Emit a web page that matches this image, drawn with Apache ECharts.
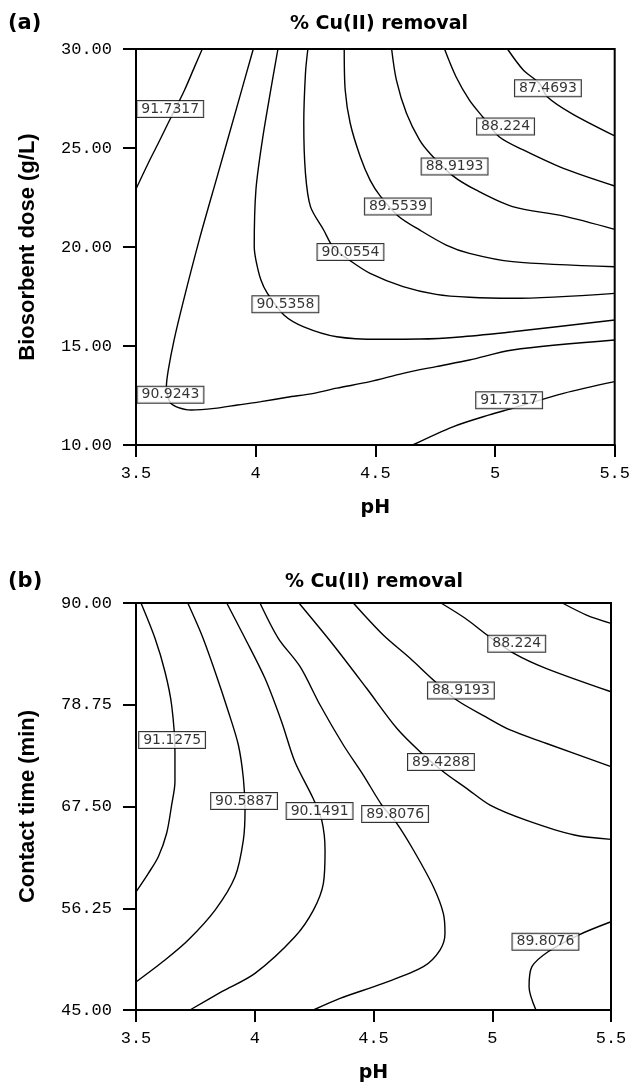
<!DOCTYPE html>
<html>
<head>
<meta charset="utf-8">
<script src="https://cdn.jsdelivr.net/npm/echarts@6/dist/echarts.min.js"></script>
<style>
  html, body { margin: 0; padding: 0; background: #fff; }
  #chart { width: 633px; height: 1088px; }
</style>
</head>
<body>
<div id="chart"></div>
<script>
// axis ticks
const phTicks = [3.5, 4, 4.5, 5, 5.5];
const doseTicks = [10, 15, 20, 25, 30];
const timeTicks = [45, 56.25, 67.5, 78.75, 90];

// (a) contour lines, [pH, dose]
const a917317Upper = [[3.777,30],[3.745,29.11],[3.703,27.93],[3.669,27.09],[3.634,26.25],[3.593,25.24],[3.551,24.23],[3.5,22.93]];
const a909243 = [[3.990,30],[3.922,27.09],[3.843,23.72],[3.764,20.35],[3.699,17.32],[3.659,15.30],[3.635,13.79],[3.627,12.94],[3.641,12.19],[3.669,11.93],[3.731,11.77],[3.828,11.85],[3.924,12.02],[4.022,12.19],[4.132,12.41],[4.243,12.61],[4.339,12.87],[4.478,13.20],[4.616,13.62],[4.754,13.96],[4.893,14.29],[5.073,14.80],[5.5,15.30]];
const a905358 = [[4.093,30],[4.063,27.93],[4.028,25.40],[4.001,22.88],[3.994,20.02],[4.001,19.34],[4.022,18.33],[4.049,17.66],[4.118,16.57],[4.201,15.97],[4.339,15.47],[4.520,15.34],[4.685,15.35],[4.865,15.47],[5.073,15.72],[5.5,16.31]];
const a900554 = [[4.218,30],[4.208,28.77],[4.201,26.25],[4.208,23.72],[4.229,22.04],[4.284,20.86],[4.326,19.95],[4.395,19.31],[4.478,18.67],[4.616,18.0],[4.754,17.61],[4.893,17.46],[5.073,17.41],[5.5,17.66]];
const a895539 = [[4.370,30],[4.374,27.93],[4.395,26.25],[4.437,24.56],[4.478,23.38],[4.520,22.58],[4.595,21.57],[4.685,20.86],[4.796,20.10],[4.893,19.68],[5.073,19.26],[5.5,19.0]];
const a889193 = [[4.568,30],[4.588,28.43],[4.630,26.75],[4.685,25.40],[4.734,24.65],[4.824,23.59],[4.920,22.88],[5.073,22.04],[5.284,21.57],[5.5,20.89]];
const a88224 = [[4.789,30],[4.837,28.60],[4.893,27.42],[4.948,26.58],[5.017,25.57],[5.118,24.90],[5.286,23.97],[5.5,23.08]];
const a874693 = [[5.052,30],[5.118,28.94],[5.185,28.27],[5.218,27.59],[5.319,26.75],[5.5,25.61]];
const a917317Lower = [[4.656,10],[4.824,10.92],[4.976,11.52],[5.073,11.85],[5.286,12.61],[5.5,13.20]];
const labelsA = [[3.643,26.97,'91.7317'],[5.221,28.02,'87.4693'],[5.044,26.08,'88.224'],[4.831,24.06,'88.9193'],[4.594,22.04,'89.5539'],[4.396,19.75,'90.0554'],[4.124,17.11,'90.5358'],[3.644,12.54,'90.9243'],[5.059,12.26,'91.7317']];

// (b) contour lines, [pH, time]
const b911275 = [[3.521,90],[3.580,86.10],[3.622,82.40],[3.650,78.72],[3.664,73.56],[3.664,70.24],[3.650,67.66],[3.629,64.54],[3.594,61.95],[3.552,60.11],[3.5,58.05]];
const b905887 = [[3.718,90],[3.777,86.46],[3.833,82.40],[3.889,77.98],[3.931,74.30],[3.952,70.62],[3.959,67.11],[3.952,63.79],[3.917,59.74],[3.833,56.05],[3.720,52.74],[3.622,50.53],[3.5,48.1]];
const b901491 = [[3.882,90],[3.959,86.10],[4.043,81.67],[4.113,76.88],[4.169,72.45],[4.245,68.44],[4.282,66.0],[4.296,62.69],[4.289,59.01],[4.247,56.05],[4.169,53.10],[4.001,49.05],[3.861,47.02],[3.727,45]];
const b898076 = [[4.022,90],[4.099,86.10],[4.191,82.96],[4.275,78.72],[4.373,74.30],[4.457,70.98],[4.535,67.66],[4.598,65.64],[4.668,62.69],[4.752,58.63],[4.794,55.69],[4.801,53.48],[4.780,51.63],[4.710,49.79],[4.541,47.95],[4.359,46.29],[4.247,45]];
const b894288 = [[4.186,90],[4.331,85.36],[4.471,80.57],[4.598,76.15],[4.696,73.56],[4.794,71.35],[4.892,69.51],[4.991,67.66],[5.142,66.0],[5.346,64.35],[5.5,63.87]];
const b889193 = [[4.415,90],[4.541,86.46],[4.654,83.89],[4.752,81.49],[4.850,79.27],[4.971,77.43],[5.075,75.96],[5.226,74.49],[5.5,71.90]];
const b88224 = [[4.784,90],[4.886,88.31],[4.988,86.27],[5.091,84.44],[5.226,82.78],[5.5,80.19]];
const bCorner = [[5.295,90],[5.397,88.67],[5.5,87.75]];
const b898076Low = [[5.184,45],[5.155,47.57],[5.167,49.79],[5.235,51.44],[5.363,53.29],[5.5,54.76]];
const labelsB = [[3.652,74.85,'91.1275'],[3.955,68.11,'90.5887'],[4.273,67.0,'90.1491'],[4.591,66.67,'89.8076'],[4.784,72.42,'89.4288'],[4.868,80.33,'88.9193'],[5.103,85.49,'88.224'],[5.224,52.55,'89.8076']];

const linesA = [a917317Upper, a909243, a905358, a900554, a895539, a889193, a88224, a874693, a917317Lower];
const linesB = [b911275, b905887, b901491, b898076, b894288, b889193, b88224, bCorner, b898076Low];

const chart = echarts.init(document.getElementById('chart'), null, { renderer: 'canvas' });

const tickFont = { color: '#000', fontFamily: '"Liberation Mono", monospace', fontSize: 17 };
const blk = { color: '#000', width: 2 };

function xAx(gi) {
  return {
    type: 'value', gridIndex: gi,
    min: phTicks[0], max: phTicks[phTicks.length - 1], interval: 0.5,
    name: 'pH', nameLocation: 'middle', nameGap: 54,
    nameTextStyle: { color: '#000', fontFamily: '"DejaVu Sans"', fontWeight: 'bold', fontSize: 19 },
    axisLine: { show: true, lineStyle: blk },
    axisTick: { show: true, inside: false, length: 12, lineStyle: blk },
    axisLabel: Object.assign({ margin: 20 }, tickFont),
    splitLine: { show: false }
  };
}
function yAx(gi, ticks, name) {
  return {
    type: 'value', gridIndex: gi,
    min: ticks[0], max: ticks[ticks.length - 1], interval: ticks[1] - ticks[0],
    name: name, nameLocation: 'middle', nameGap: 97, nameRotate: 90,
    nameTextStyle: { color: '#000', fontFamily: '"Liberation Sans", Arial', fontWeight: 'bold', fontSize: 22 },
    axisLine: { show: true, lineStyle: blk },
    axisTick: { show: true, inside: false, length: 13, lineStyle: blk },
    axisLabel: Object.assign({ margin: 24, formatter: v => v.toFixed(2) }, tickFont),
    splitLine: { show: false }
  };
}
function contourSeries(lines, gi) {
  return lines.map(pts => ({
    type: 'line', xAxisIndex: gi, yAxisIndex: gi,
    data: pts, smooth: 0.3, symbol: 'none', silent: true,
    lineStyle: { color: '#000', width: 1.4 }, z: 2
  }));
}
function labelSeries(labels, gi) {
  return {
    type: 'scatter', xAxisIndex: gi, yAxisIndex: gi, z: 5, silent: true,
    symbolSize: 1, itemStyle: { color: 'rgba(0,0,0,0)' },
    data: labels.map(d => ({ value: [d[0], d[1]], name: d[2] })),
    label: {
      show: true, position: 'inside', formatter: p => p.name,
      color: '#000', fontFamily: '"DejaVu Sans"', fontSize: 14, lineHeight: 14,
      backgroundColor: '#fff', borderColor: '#000', borderWidth: 1, padding: [1, 4, 1, 4]
    }
  };
}

const titleFont = 'bold 19px "DejaVu Sans"';
const option = {
  animation: false,
  backgroundColor: '#fff',
  grid: [
    { left: 136, top: 49, width: 482, height: 396, show: true, borderColor: '#000', borderWidth: 2, backgroundColor: 'transparent' },
    { left: 136, top: 603, width: 475, height: 407, show: true, borderColor: '#000', borderWidth: 2, backgroundColor: 'transparent' }
  ],
  xAxis: [xAx(0), xAx(1)],
  yAxis: [yAx(0, doseTicks, 'Biosorbent dose (g/L)'), yAx(1, timeTicks, 'Contact time (min)')],
  graphic: [
    { type: 'text', x: 8, y: 24, style: { text: '(a)', font: 'bold 21px "DejaVu Sans"', fill: '#000', align: 'left', verticalAlign: 'middle' } },
    { type: 'text', x: 379, y: 24, style: { text: '% Cu(II) removal', font: titleFont, fill: '#000', align: 'center', verticalAlign: 'middle' } },
    { type: 'text', x: 8, y: 582, style: { text: '(b)', font: 'bold 21px "DejaVu Sans"', fill: '#000', align: 'left', verticalAlign: 'middle' } },
    { type: 'text', x: 374, y: 582, style: { text: '% Cu(II) removal', font: titleFont, fill: '#000', align: 'center', verticalAlign: 'middle' } }
  ],
  series: [].concat(
    contourSeries(linesA, 0),
    contourSeries(linesB, 1),
    [labelSeries(labelsA, 0), labelSeries(labelsB, 1)]
  )
};
chart.setOption(option);
</script>
</body>
</html>
